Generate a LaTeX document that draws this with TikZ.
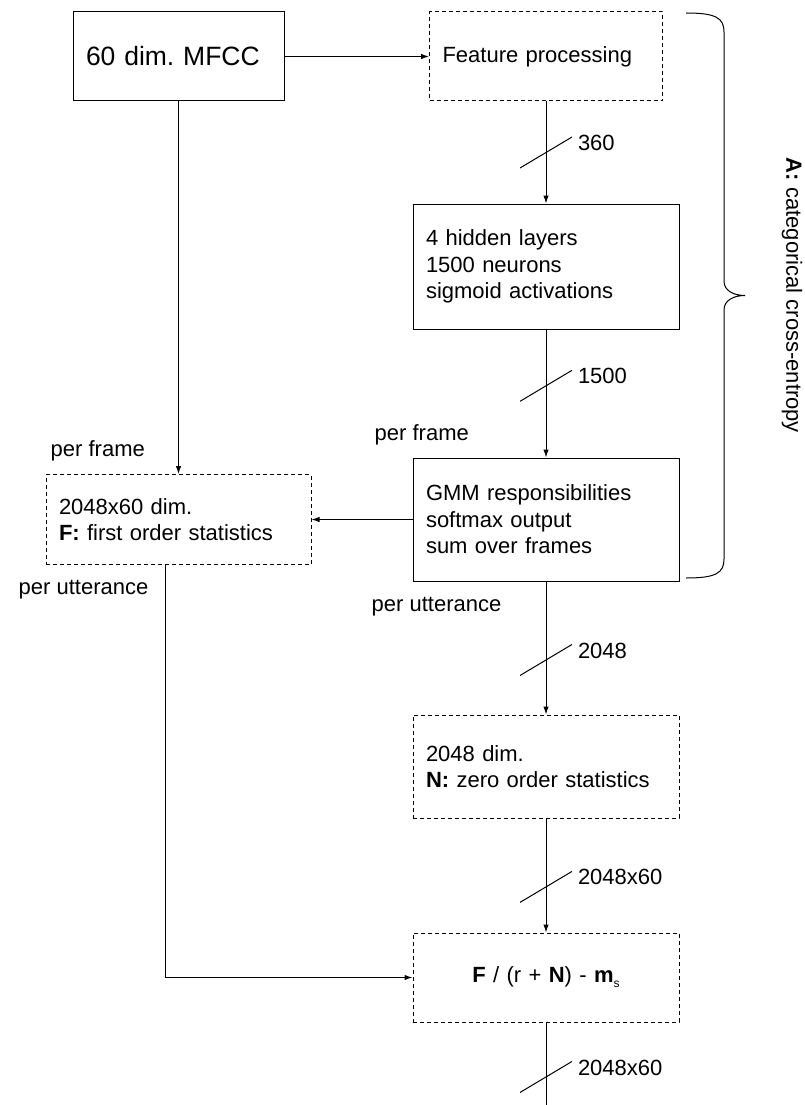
\documentclass[tikz,border=0pt]{standalone}
\usepackage{fontspec}
\setmainfont{Liberation Sans}
\usetikzlibrary{arrows.meta,positioning}
\newcommand{\fs}{\fontsize{22}{26.5}\selectfont}
\newcommand{\fsbig}{\fontsize{26.5}{32}\selectfont}
\frenchspacing

\begin{document}
\begin{tikzpicture}[
    x=1pt, y=-1pt,
    blk/.style={draw, line width=1pt, align=left, inner xsep=13pt, inner ysep=0pt, font=\fs},
    dblk/.style={blk, dash pattern=on 4pt off 3pt},
    arrow/.style={-{Latex[length=8pt,width=5.5pt]}, line width=1pt},
    bus/.style={minimum width=52pt, minimum height=31pt, inner sep=0pt,
        path picture={\draw[-, solid, line width=1pt] (path picture bounding box.south west) -- (path picture bounding box.north east);}},
    lbl/.style={font=\fs, inner sep=2pt}
]
\useasboundingbox (0,0) rectangle (804,1105);

\node[blk, font=\fsbig, text width=185pt, minimum height=89pt] (mfcc) at (178.5,56.5) {60 dim. MFCC};
\node[dblk, text width=207pt, minimum height=89pt, right=144.5pt of mfcc] (feat) {Feature processing};
\node[blk, text width=240pt, minimum height=125pt, below=102pt of feat] (hidden) {4 hidden layers\\1500 neurons\\sigmoid activations};
\node[blk, text width=240pt, minimum height=123pt, below=128pt of hidden] (gmm) {GMM responsibilities\\softmax output\\sum over frames};
\node[dblk, text width=240pt, minimum height=103pt, below=133pt of gmm] (nbox) {2048 dim.\\\textbf{N:} zero order statistics};
\node[dblk, text width=240pt, minimum height=89pt, align=center, below=114pt of nbox] (final) {\textbf{F} / (r + \textbf{N}) - \textbf{m}\raisebox{-5pt}{\fontsize{12}{12}\selectfont s}};
\node[dblk, text width=239pt, minimum height=90pt, left=101pt of gmm] (fbox) {2048x60 dim.\\\textbf{F:} first order statistics};
\coordinate (out) at (final.south |- 0,1105);

% frame / utterance notes
\node[lbl, anchor=base west] (pf1) at ([xshift=3pt,yshift=18pt]fbox.north west) {per frame};
\node[lbl, anchor=base west] (pf2) at ([xshift=-40pt,yshift=17pt]gmm.north west) {per frame};
\node[lbl, anchor=base west] (pu1) at ([xshift=-29pt,yshift=-29pt]fbox.south west) {per utterance};
\node[lbl, anchor=base west] (pu2) at ([xshift=-43pt,yshift=-30pt]gmm.south west) {per utterance};

\draw[arrow] (mfcc) -- (feat);
\draw[arrow] (feat) -- node[bus, label={[lbl, anchor=west, xshift=3pt, yshift=-6.5pt]north east:360}] (b1) {} (hidden);
\draw[arrow] (hidden) -- node[bus, pos=0.44, label={[lbl, anchor=west, xshift=3pt, yshift=-6.5pt]north east:1500}] (b2) {} (gmm);
\draw[arrow] (gmm) -- node[bus, pos=0.59, label={[lbl, anchor=west, xshift=3pt, yshift=-6.5pt]north east:2048}] (b3) {} (nbox);
\draw[arrow] (nbox) -- node[bus, pos=0.6, label={[lbl, anchor=west, xshift=3pt, yshift=-6.5pt]north east:2048x60}] (b4) {} (final);
\draw[line width=1pt] (final) -- node[bus, pos=0.66, label={[lbl, anchor=west, xshift=3pt, yshift=-6.5pt]north east:2048x60}] (b5) {} (out);
\draw[arrow] (mfcc) -- (fbox);
\draw[arrow] (gmm) -- (fbox);
\draw[arrow] ([xshift=-13.5pt]fbox.south) |- (final);

% brace
\draw[line width=1pt] (686,13) .. controls (716,13) and (724,18) .. (724,32)
  -- (724,281) .. controls (724,291) and (734,295.5) .. (745,295.5)
  .. controls (734,295.5) and (724,300) .. (724,310)
  -- (724,559) .. controls (724,573) and (716,578) .. (686,578);
\node[lbl, rotate=-90] (ce) at (792,295.5) {\textbf{A:} categorical cross-entropy};

\end{tikzpicture}
\end{document}
